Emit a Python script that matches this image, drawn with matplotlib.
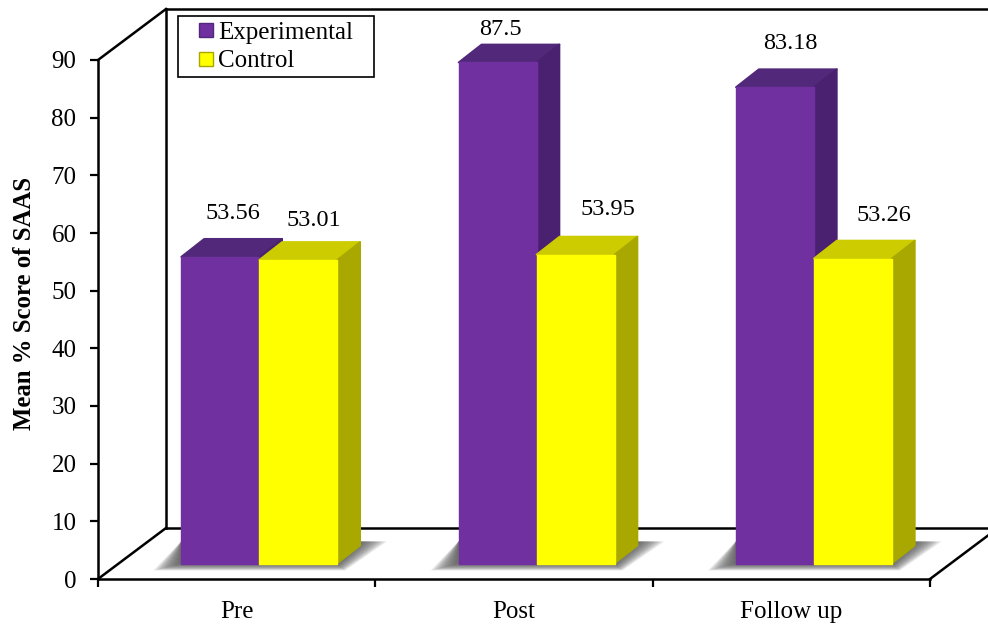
import matplotlib
matplotlib.use("Agg")
import matplotlib.pyplot as plt
from matplotlib.lines import Line2D
from matplotlib.patches import Polygon

categories = ["Pre", "Post", "Follow up"]
experimental = [53.56, 87.5, 83.18]
control = [53.01, 53.95, 53.26]
y_ticks = [0, 10, 20, 30, 40, 50, 60, 70, 80, 90]

W, H = 988, 625
PURPLE = ("#7030a0", "#52297a", "#4a2070")
YELLOW = ("#ffff00", "#cccc00", "#a8a800")

plt.rcParams["font.family"] = ["Liberation Serif", "DejaVu Serif"]

fig = plt.figure(figsize=(W / 100, H / 100), dpi=100)
# axes box is the front plane of the fake 3d chart
ax = fig.add_axes([98 / W, 1 - 579 / H, 832 / W, 519 / H])
ax.set_xlim(0, 3)
ax.set_ylim(0, 90)
ax.patch.set_visible(False)

px_x = 3 / 832      # one pixel in x data units
px_y = 90 / 519     # one pixel in y data units

# walls and floor
wall_dx, wall_dy = 68 * px_x, 51 * px_y
wall = dict(color="black", lw=1.8, clip_on=False, zorder=1)
ax.plot([0, wall_dx], [90, 90 + wall_dy], **wall)
ax.plot([wall_dx, 3.3], [90 + wall_dy] * 2, **wall)
ax.plot([wall_dx, wall_dx], [wall_dy, 90 + wall_dy], **wall)
ax.plot([0, wall_dx], [0, wall_dy], **wall)
ax.plot([wall_dx, 3.3], [wall_dy] * 2, **wall)
ax.plot([3, 3 + wall_dx], [0, wall_dy], **wall)

for s in ["top", "right"]:
    ax.spines[s].set_visible(False)
for s in ["left", "bottom"]:
    ax.spines[s].set_linewidth(1.8)

ax.set_yticks(y_ticks)
ax.tick_params(axis="y", length=5.5, width=1.6, labelsize=18, pad=10)
ax.set_xticks([0, 1, 2, 3])
ax.set_xticklabels([])
ax.tick_params(axis="x", which="major", length=6, width=1.6)
ax.set_xticks([0.5, 1.5, 2.5], minor=True)
ax.set_xticklabels(categories, minor=True)
ax.tick_params(axis="x", which="minor", length=0, labelsize=18, pad=15.5)
ax.set_ylabel("Mean % Score of SAAS", fontsize=17.8, fontweight="bold", labelpad=11, y=0.53)

# bars stand a bit back from the front edge of the floor
bar_w = 78 * px_x
base = 15.5 * px_y
gap = 22.5 * px_x   # bars are shifted right of the category centre
depth_x, depth_y = 23 * px_x, 18 * px_y
bar_scale = 0.993


def face(pts, color, z):
    # same-colour edge with round joins gives the soft corners
    ax.add_patch(Polygon(pts, closed=True, facecolor=color, edgecolor=color, lw=1.2,
                         joinstyle="round", clip_on=False, zorder=z))


def draw_bar(x_left, value, colors, z):
    top = base + value * bar_scale
    right = x_left + bar_w
    ax.bar(x_left, value * bar_scale, bar_w, bottom=base, align="edge", color=colors[0],
           edgecolor=colors[0], lw=1.0, joinstyle="round", clip_on=False, zorder=z + 0.2)
    face([(x_left, top), (x_left + depth_x, top + depth_y),
          (right + depth_x, top + depth_y), (right, top)], colors[1], z)
    face([(right, base), (right + depth_x, base + depth_y),
          (right + depth_x, top + depth_y), (right, top)], colors[2], z + 0.1)


# soft shadow on the floor, built from stacked see-through shapes
n_layers = 18
for i in range(len(categories)):
    c = i + 0.5 + gap
    left = c - bar_w
    right = c + bar_w
    for k in range(n_layers):
        t = (k + 1) / n_layers
        pts = [(left - 28 * t * px_x, base - 7 * t * px_y),
               (right + 8 * t * px_x, base - 7 * t * px_y),
               (right + (23 + 27 * t) * px_x, base + 22 * px_y),
               (left, base + 22 * px_y)]
        ax.add_patch(Polygon(pts, closed=True, color="#505050", alpha=0.085, lw=0,
                             clip_on=False, zorder=1.5))

label_offsets_exp = [(13, 43), (3, 33), (15, 44)]
label_offsets_ctl = [(16, 39), (32, 45), (31, 43)]

for i in range(len(categories)):
    c = i + 0.5 + gap
    draw_bar(c - bar_w, experimental[i], PURPLE, 2 + i)
    draw_bar(c, control[i], YELLOW, 2.5 + i)
    ax.annotate(str(experimental[i]), (c - bar_w / 2, base + experimental[i] * bar_scale),
                xytext=label_offsets_exp[i], textcoords="offset pixels",
                ha="center", va="center", fontsize=17.5, annotation_clip=False, zorder=9)
    ax.annotate(str(control[i]), (c + bar_w / 2, base + control[i] * bar_scale),
                xytext=label_offsets_ctl[i], textcoords="offset pixels",
                ha="center", va="center", fontsize=17.5, annotation_clip=False, zorder=9)

handles = [Line2D([], [], ls="none", marker="s", ms=9.5, mfc=PURPLE[0], mec=PURPLE[1], label="Experimental"),
           Line2D([], [], ls="none", marker="s", ms=9.5, mfc=YELLOW[0], mec=YELLOW[2], label="Control")]
leg = fig.legend(handles=handles, loc="upper left",
                 bbox_to_anchor=(178 / W, 1 - 77 / H, 196 / W, 61 / H),
                 mode="expand", borderaxespad=0, fontsize=18, fancybox=False,
                 edgecolor="black", framealpha=1, borderpad=0.2, labelspacing=0.25,
                 handlelength=1.84, handletextpad=-0.44)
leg.get_frame().set_linewidth(1.2)

fig.savefig("out.png", dpi=100)
